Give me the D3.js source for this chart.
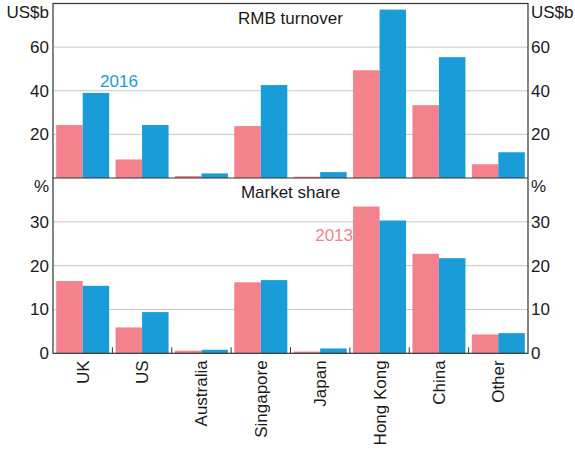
<!DOCTYPE html>
<html>
<head>
<meta charset="utf-8">
<script src="https://cdn.jsdelivr.net/npm/d3@7"></script>
<style>
  body { margin: 0; background: #fff; }
  text { font-family: Arial, "Liberation Sans", sans-serif; }
</style>
</head>
<body>
<div id="chart"></div>
<script>
// Data
const categories = ['UK', 'US', 'Australia', 'Singapore', 'Japan', 'Hong Kong', 'China', 'Other'];
const turnover2013 = [24.3, 8.5, 0.9, 23.8, 0.6, 49.4, 33.4, 6.3];
const turnover2016 = [39.0, 24.3, 2.1, 42.6, 2.7, 77.2, 55.4, 11.8];
const share2013 = [16.5, 5.9, 0.6, 16.2, 0.4, 33.5, 22.7, 4.3];
const share2016 = [15.4, 9.4, 0.8, 16.7, 1.1, 30.3, 21.7, 4.6];
const turnoverTicks = [20, 40, 60];
const shareTicks = [0, 10, 20, 30];

const pink = '#f4828c';
const blue = '#1a9cd8';
const fs = '17px';

const W = 575, H = 450;
const left = 53, right = 528;
const top1 = 3.5, mid = 178, bottom = 353.3;

const svg = d3.select('#chart')
    .append('svg')
    .attr('width', W)
    .attr('height', H);

const x = d3.scaleBand()
    .domain(categories)
    .range([left, right])
    .paddingInner(0)
    .paddingOuter(0);

const xSeries = d3.scaleBand()
    .domain(['2013', '2016'])
    .range([0, x.bandwidth()])
    .paddingOuter(0.12)
    .paddingInner(0);

function drawPanel(y0, y1, maxVal, ticks, a, b, title, unit) {
    const y = d3.scaleLinear().domain([0, maxVal]).range([y1, y0]);

    // gridlines
    svg.append('g')
        .selectAll('line')
        .data(ticks.filter(t => t > 0))
        .enter()
        .append('line')
        .attr('x1', left)
        .attr('x2', right)
        .attr('y1', d => y(d))
        .attr('y2', d => y(d))
        .attr('stroke', '#c8c8c8')
        .attr('stroke-width', 1);

    // bars
    const rows = categories.map((c, i) => ({ c, a: a[i], b: b[i] }));
    const g = svg.append('g');
    g.selectAll('.bar-a')
        .data(rows)
        .enter()
        .append('rect')
        .attr('x', d => x(d.c) + xSeries('2013'))
        .attr('y', d => y(d.a))
        .attr('width', xSeries.bandwidth())
        .attr('height', d => y(0) - y(d.a))
        .attr('fill', pink);
    g.selectAll('.bar-b')
        .data(rows)
        .enter()
        .append('rect')
        .attr('x', d => x(d.c) + xSeries('2016'))
        .attr('y', d => y(d.b))
        .attr('width', xSeries.bandwidth())
        .attr('height', d => y(0) - y(d.b))
        .attr('fill', blue);

    // left and right axes
    const leftAxis = svg.append('g')
        .attr('transform', `translate(${left},0)`)
        .call(d3.axisLeft(y).tickValues(ticks).tickSize(0).tickPadding(4));
    const rightAxis = svg.append('g')
        .attr('transform', `translate(${right},0)`)
        .call(d3.axisRight(y).tickValues(ticks).tickSize(0).tickPadding(3));
    [leftAxis, rightAxis].forEach(ax => {
        ax.select('.domain').remove();
        ax.selectAll('text')
            .style('font-size', fs)
            .attr('fill', '#1a1a1a');
    });

    // units
    svg.append('text')
        .attr('x', left - 4)
        .attr('y', y0 + 14)
        .attr('text-anchor', 'end')
        .style('font-size', fs)
        .attr('fill', '#1a1a1a')
        .text(unit);
    svg.append('text')
        .attr('x', right + 3)
        .attr('y', y0 + 14)
        .style('font-size', fs)
        .attr('fill', '#1a1a1a')
        .text(unit);

    // panel title
    svg.append('text')
        .attr('x', (left + right) / 2)
        .attr('y', y0 + 20)
        .attr('text-anchor', 'middle')
        .style('font-size', fs)
        .attr('fill', '#1a1a1a')
        .text(title);

    return y;
}

drawPanel(top1, mid, 80, turnoverTicks, turnover2013, turnover2016, 'RMB turnover', 'US$b');
drawPanel(mid, bottom, 40, shareTicks, share2013, share2016, 'Market share', '%');

// category ticks on the bottom axis
svg.append('g')
    .selectAll('line')
    .data(categories.slice(1))
    .enter()
    .append('line')
    .attr('x1', d => x(d))
    .attr('x2', d => x(d))
    .attr('y1', bottom)
    .attr('y2', bottom - 6)
    .attr('stroke', '#333')
    .attr('stroke-width', 1);

// frame
svg.append('rect')
    .attr('x', left)
    .attr('y', top1)
    .attr('width', right - left)
    .attr('height', bottom - top1)
    .attr('fill', 'none')
    .attr('stroke', '#333')
    .attr('stroke-width', 1.2);
svg.append('line')
    .attr('x1', left)
    .attr('x2', right)
    .attr('y1', mid)
    .attr('y2', mid)
    .attr('stroke', '#333')
    .attr('stroke-width', 1.2);

// category labels
svg.append('g')
    .selectAll('text')
    .data(categories)
    .enter()
    .append('text')
    .attr('transform', d => `translate(${x(d) + x.bandwidth() / 2 + 6},${bottom + 7}) rotate(-90)`)
    .attr('text-anchor', 'end')
    .style('font-size', fs)
    .attr('fill', '#1a1a1a')
    .text(d => d);

// series labels
svg.append('text')
    .attr('x', 119)
    .attr('y', 87)
    .attr('text-anchor', 'middle')
    .style('font-size', fs)
    .attr('fill', blue)
    .text('2016');
svg.append('text')
    .attr('x', 353)
    .attr('y', 241)
    .attr('text-anchor', 'end')
    .style('font-size', fs)
    .attr('fill', pink)
    .text('2013');
</script>
</body>
</html>
